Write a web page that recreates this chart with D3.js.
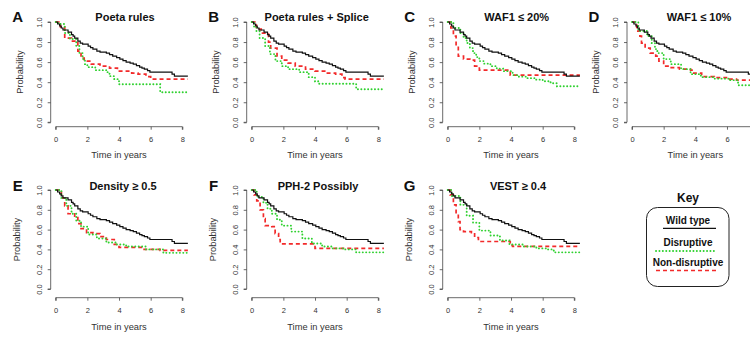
<!DOCTYPE html>
<html>
<head>
<meta charset="utf-8">
<script src="https://cdn.jsdelivr.net/npm/d3@7"></script>
<style>
  body { margin: 0; background: #fff; }
  svg { display: block; font-family: "Liberation Sans", Arial, sans-serif; }
</style>
</head>
<body>
<svg id="chart" width="750" height="337"></svg>
<script>
// survival curves, [time in years, probability]
var wildType = [[0,1],[0.12,0.98],[0.25,0.96],[0.35,0.94],[0.46,0.92],[0.78,0.90],[1.0,0.875],[1.1,0.86],[1.2,0.84],[1.4,0.81],[1.55,0.79],[1.7,0.78],[2.05,0.76],[2.2,0.745],[2.35,0.73],[2.6,0.71],[2.8,0.70],[3.2,0.69],[3.4,0.675],[3.6,0.66],[3.85,0.645],[4.05,0.63],[4.25,0.615],[4.45,0.60],[4.7,0.59],[4.9,0.58],[5.1,0.565],[5.3,0.55],[5.45,0.54],[5.6,0.53],[5.8,0.515],[5.95,0.50],[7.35,0.48],[7.5,0.46],[8.35,0.46]];

var poetaDisruptive = [[0,1],[0.15,0.98],[0.57,0.89],[0.9,0.83],[1.3,0.76],[1.5,0.69],[1.7,0.63],[1.85,0.58],[2.0,0.55],[2.5,0.52],[3.2,0.50],[3.4,0.46],[3.7,0.43],[4.0,0.38],[6.6,0.30],[8.35,0.30]];
var poetaNonDisruptive = [[0,1],[0.3,0.95],[0.57,0.84],[1.0,0.81],[1.4,0.71],[1.6,0.64],[1.8,0.61],[2.25,0.58],[2.8,0.56],[3.4,0.54],[3.9,0.51],[4.8,0.49],[5.2,0.48],[5.7,0.455],[6.0,0.43],[8.35,0.43]];

var spliceDisruptive = [[0,1],[0.15,0.95],[0.3,0.91],[0.5,0.84],[0.85,0.76],[1.15,0.68],[1.5,0.61],[1.9,0.56],[2.3,0.53],[3.0,0.50],[3.6,0.45],[4.0,0.41],[4.2,0.385],[6.6,0.33],[8.35,0.33]];
var spliceNonDisruptive = [[0,1],[0.3,0.93],[0.6,0.89],[1.06,0.80],[1.2,0.74],[1.6,0.66],[1.9,0.62],[2.3,0.59],[2.75,0.56],[3.4,0.53],[4.0,0.51],[4.7,0.49],[5.3,0.48],[5.7,0.445],[5.9,0.43],[8.35,0.43]];

var waf20Disruptive = [[0,1],[0.36,0.94],[0.8,0.89],[1.0,0.84],[1.2,0.79],[1.4,0.74],[1.6,0.69],[1.8,0.65],[2.0,0.61],[2.3,0.585],[2.7,0.56],[3.1,0.535],[3.5,0.51],[4.1,0.47],[4.5,0.455],[5.0,0.44],[5.5,0.425],[6.0,0.41],[6.5,0.39],[6.9,0.36],[8.35,0.36]];
var waf20NonDisruptive = [[0,1],[0.2,0.94],[0.36,0.86],[0.53,0.76],[0.67,0.66],[1.0,0.63],[1.4,0.62],[1.7,0.56],[2.0,0.52],[3.95,0.47],[8.35,0.47]];

var waf10Disruptive = [[0,1],[0.4,0.91],[0.95,0.86],[1.25,0.79],[1.45,0.73],[1.6,0.69],[2.0,0.63],[2.45,0.58],[3.1,0.53],[3.7,0.48],[4.35,0.45],[5.2,0.435],[6.1,0.42],[6.7,0.37],[7.5,0.36],[8.35,0.36]];
var waf10NonDisruptive = [[0,1],[0.3,0.91],[0.5,0.86],[0.6,0.79],[0.83,0.74],[1.15,0.69],[1.5,0.66],[1.7,0.61],[2.0,0.56],[2.4,0.545],[3.0,0.53],[3.7,0.52],[3.9,0.49],[4.4,0.455],[5.2,0.445],[6.1,0.43],[6.6,0.42],[8.35,0.42]];

var densityDisruptive = [[0,1],[0.36,0.92],[0.67,0.84],[1.0,0.76],[1.3,0.69],[1.6,0.63],[2.05,0.55],[2.6,0.51],[3.2,0.47],[3.8,0.45],[4.45,0.43],[5.7,0.40],[6.8,0.365],[8.35,0.365]];
var densityNonDisruptive = [[0,1],[0.36,0.92],[0.57,0.84],[0.78,0.76],[1.2,0.72],[1.4,0.66],[1.6,0.61],[1.95,0.57],[2.35,0.56],[2.8,0.53],[3.2,0.50],[3.7,0.45],[4.0,0.42],[5.5,0.40],[6.6,0.39],[8.35,0.39]];

var pphDisruptive = [[0,1],[0.32,0.93],[0.74,0.87],[1.0,0.81],[1.27,0.76],[1.6,0.70],[1.9,0.64],[2.5,0.58],[3.2,0.51],[3.8,0.46],[4.45,0.43],[5.1,0.41],[5.9,0.40],[6.6,0.37],[8.35,0.37]];
var pphNonDisruptive = [[0,1],[0.15,0.95],[0.32,0.89],[0.53,0.80],[0.74,0.71],[0.85,0.64],[1.27,0.63],[1.48,0.56],[1.7,0.50],[1.8,0.456],[4.0,0.41],[8.35,0.41]];

var vestDisruptive = [[0,1],[0.25,0.94],[0.8,0.85],[1.2,0.74],[1.6,0.67],[2.0,0.59],[2.7,0.54],[3.3,0.49],[3.9,0.45],[4.8,0.43],[5.6,0.41],[6.25,0.40],[6.7,0.37],[8.35,0.37]];
var vestNonDisruptive = [[0,1],[0.15,0.95],[0.36,0.85],[0.53,0.76],[0.67,0.68],[0.78,0.60],[1.0,0.58],[1.5,0.57],[1.7,0.52],[1.94,0.48],[3.95,0.44],[4.1,0.43],[8.35,0.43]];

var panelLetters = ["A", "B", "C", "D", "E", "F", "G"];
var panelTitles = ["Poeta rules", "Poeta rules + Splice", "WAF1 \u2264 20%", "WAF1 \u2264 10%", "Density \u2265 0.5", "PPH-2 Possibly", "VEST \u2265 0.4"];
var disruptiveSeries = [poetaDisruptive, spliceDisruptive, waf20Disruptive, waf10Disruptive, densityDisruptive, pphDisruptive, vestDisruptive];
var nonDisruptiveSeries = [poetaNonDisruptive, spliceNonDisruptive, waf20NonDisruptive, waf10NonDisruptive, densityNonDisruptive, pphNonDisruptive, vestNonDisruptive];
var xTicks = [0, 2, 4, 6, 8];
var yTicks = [0, 0.2, 0.4, 0.6, 0.8, 1.0];
var keyLabels = ["Wild type", "Disruptive", "Non-disruptive"];

// where each panel sits on the page
var layout = [
  {x0: 55.7, row: 0, titleX: 125},
  {x0: 251.7, row: 0, titleX: 316.7},
  {x0: 447.7, row: 0, titleX: 516.7},
  {x0: 632, row: 0, titleX: 699},
  {x0: 55.7, row: 1, titleX: 123},
  {x0: 251.7, row: 1, titleX: 318},
  {x0: 447.7, row: 1, titleX: 518}
];
var rows = [
  {top: 22, bottom: 122.3, axisY: 126.7, titleY: 20.5, letterY: 21.5, tickY: 142, labelY: 157.5, probOff: 31},
  {top: 190, bottom: 289, axisY: 297.7, titleY: 189.5, letterY: 190.5, tickY: 312.7, labelY: 330, probOff: 34}
];
var pxPerYear = 15.83;
var pageW = 750;

var colors = {wild: "#111", dis: "#2fd12f", non: "#f22a2a"};
var svg = d3.select("#chart");

function drawPanel(i) {
  var L = layout[i], R = rows[L.row];
  var x = d3.scaleLinear().domain([0, 8]).range([L.x0, L.x0 + 8 * pxPerYear]);
  var y = d3.scaleLinear().domain([0, 1]).range([R.bottom, R.top]);
  var g = svg.append("g");
  var axisX = L.x0 - 5;

  // panel D runs off the right edge of the figure, so its last tick is lost
  var ticks = xTicks.filter(function (t) { return x(t) < pageW - 6; });
  var xAxis = g.append("g").attr("transform", "translate(0," + R.axisY + ")")
    .call(d3.axisBottom(x).tickValues(ticks).tickSize(3).tickFormat(d3.format("d")));
  xAxis.select(".domain").attr("d", "M" + x(0) + ",3V0H" + x(8) + "V3");
  xAxis.selectAll(".tick text").attr("y", 0).attr("dy", null)
    .attr("transform", "translate(0," + (R.tickY - R.axisY) + ")");

  var yAxis = g.append("g").attr("transform", "translate(" + axisX + ",0)")
    .call(d3.axisLeft(y).tickValues(yTicks).tickSize(3).tickFormat(d3.format(".1f")));
  yAxis.select(".domain").attr("d", "M-3," + y(0) + "H0V" + y(1) + "H-3");
  yAxis.selectAll(".tick text")
    .attr("x", null).attr("dy", "0")
    .attr("text-anchor", "middle")
    .attr("transform", "translate(-9,0) rotate(-90)");

  [xAxis, yAxis].forEach(function (a) {
    a.selectAll(".domain, .tick line").attr("stroke", "#444").attr("stroke-width", 0.8);
    a.selectAll(".tick text").attr("fill", "#333").attr("font-size", 7.5).attr("font-family", null);
  });

  var line = d3.line().curve(d3.curveStepAfter)
    .x(function (d) { return x(d[0]); })
    .y(function (d) { return y(d[1]); });

  g.append("path").datum(nonDisruptiveSeries[i]).attr("d", line)
    .attr("fill", "none").attr("stroke", colors.non).attr("stroke-width", 1.7)
    .attr("stroke-dasharray", "4,3");
  g.append("path").datum(disruptiveSeries[i]).attr("d", line)
    .attr("fill", "none").attr("stroke", colors.dis).attr("stroke-width", 1.9)
    .attr("stroke-dasharray", "0.1,3.3").attr("stroke-linecap", "round");
  g.append("path").datum(wildType).attr("d", line)
    .attr("fill", "none").attr("stroke", colors.wild).attr("stroke-width", 1.2);

  g.append("text").text(panelLetters[i])
    .attr("x", L.x0 - 38).attr("y", R.letterY).attr("text-anchor", "middle")
    .attr("font-size", 15).attr("font-weight", "bold").attr("fill", "#111");
  g.append("text").text(panelTitles[i])
    .attr("x", L.titleX).attr("y", R.titleY).attr("text-anchor", "middle")
    .attr("font-size", 11).attr("font-weight", "bold").attr("fill", "#111");
  g.append("text").text("Time in years")
    .attr("x", x(4)).attr("y", R.labelY).attr("text-anchor", "middle")
    .attr("font-size", 9.3).attr("fill", "#333");
  g.append("text").text("Probability")
    .attr("transform", "translate(" + (axisX - R.probOff) + "," + ((R.top + R.bottom) / 2) + ") rotate(-90)")
    .attr("text-anchor", "middle").attr("dy", "0.35em")
    .attr("font-size", 9.3).attr("fill", "#333");
}

panelLetters.forEach(function (d, i) { drawPanel(i); });

// key box
var key = svg.append("g");
key.append("text").text("Key").attr("x", 688).attr("y", 201.5)
  .attr("text-anchor", "middle").attr("font-size", 12).attr("font-weight", "bold").attr("fill", "#111");
key.append("rect").attr("x", 646.5).attr("y", 207.5).attr("width", 82.5).attr("height", 79)
  .attr("rx", 11).attr("fill", "none").attr("stroke", "#222").attr("stroke-width", 1);
var keyRows = [
  {textY: 224.3, lineY: 228.3, stroke: colors.wild, dash: null, cap: "butt", width: 1.2},
  {textY: 246.3, lineY: 251, stroke: colors.dis, dash: "0.1,3.3", cap: "round", width: 1.9},
  {textY: 266, lineY: 270.5, stroke: colors.non, dash: "4,3", cap: "butt", width: 1.6}
];
keyLabels.forEach(function (lab, i) {
  var k = keyRows[i];
  key.append("text").text(lab).attr("x", 688).attr("y", k.textY)
    .attr("text-anchor", "middle").attr("font-size", 10).attr("font-weight", "bold").attr("fill", "#111");
  key.append("line").attr("x1", i === 0 ? 663 : 656).attr("x2", 716)
    .attr("y1", k.lineY).attr("y2", k.lineY)
    .attr("stroke", k.stroke).attr("stroke-width", k.width)
    .attr("stroke-dasharray", k.dash).attr("stroke-linecap", k.cap);
});
</script>
</body>
</html>
